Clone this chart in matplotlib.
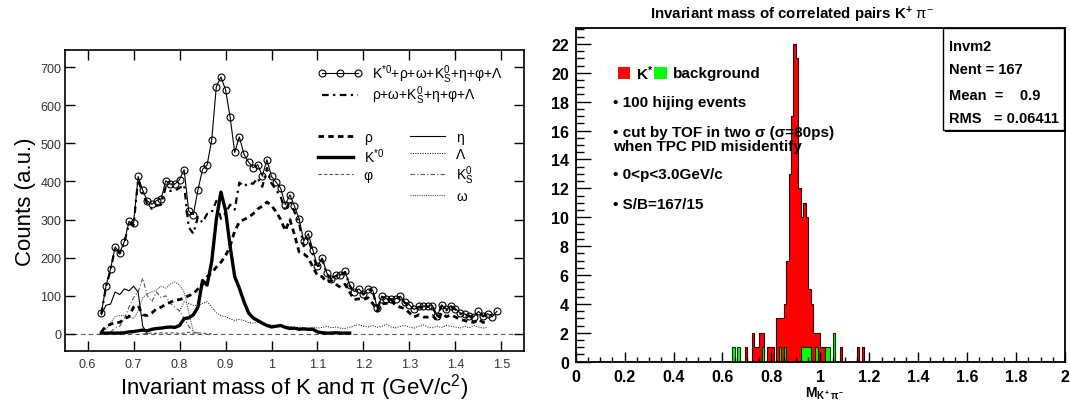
import numpy as np
import matplotlib
matplotlib.use("Agg")
import matplotlib.pyplot as plt
from matplotlib.lines import Line2D
from matplotlib.patches import Rectangle
from matplotlib.ticker import MultipleLocator, FuncFormatter

plt.rcParams['font.family'] = ['Liberation Sans', 'DejaVu Sans']
plt.rcParams['mathtext.fontset'] = 'custom'
plt.rcParams['mathtext.rm'] = 'Liberation Sans'
plt.rcParams['mathtext.it'] = 'Liberation Sans:italic'
plt.rcParams['mathtext.bf'] = 'Liberation Sans:bold'

# ---------------- left panel data ----------------
x_total = [round(0.63 + 0.01 * i, 2) for i in range(87)]
total = [54, 125, 170, 228, 213, 242, 295, 290, 413, 377, 349, 340, 350, 354, 402, 393, 393, 405, 431, 322,
         313, 377, 432, 443, 509, 649, 674, 641, 569, 476, 517, 472, 451, 436, 444, 414, 457, 413, 398, 382,
         339, 365, 335, 302, 243, 263, 220, 177, 199, 160, 145, 154, 155, 164, 128, 111, 118, 105, 118, 115,
         67, 99, 92, 92, 92, 99, 83, 76, 64, 72, 73, 73, 74, 46, 76, 64, 74, 66, 55, 52,
         48, 45, 59, 48, 53, 45, 59]

x_bkg = [round(0.63 + 0.01 * i, 2) for i in range(85)]
bkg = [52, 123, 168, 226, 211, 239, 290, 284, 405, 367, 341, 328, 336, 339, 385, 375, 376, 383, 391, 280,
       263, 307, 292, 315, 319, 349, 302, 317, 339, 326, 397, 387, 396, 394, 409, 386, 435, 395, 378, 360,
       322, 351, 320, 290, 230, 251, 208, 172, 196, 158, 143, 151, 153, 162, 126, 109, 116, 103, 116, 113,
       65, 97, 90, 90, 90, 97, 81, 74, 62, 70, 71, 71, 72, 44, 74, 62, 72, 64, 53, 50,
       46, 43, 57, 46, 51]

x_rho = x_bkg
rho = [5, 20, 25, 30, 30, 40, 45, 70, 74, 50, 48, 55, 66, 70, 78, 83, 88, 90, 94, 100,
       105, 118, 130, 150, 160, 175, 188, 205, 230, 270, 293, 300, 306, 315, 328, 335, 346, 337, 320, 300,
       271, 300, 260, 215, 210, 200, 175, 153, 150, 136, 140, 130, 122, 130, 109, 90, 92, 90, 95, 80,
       60, 79, 80, 87, 75, 70, 66, 55, 44, 50, 44, 44, 48, 35, 55, 45, 50, 44, 38, 35,
       31, 30, 38, 30, 31]

x_kstar = [round(0.63 + 0.01 * i, 2) for i in range(55)]
kstar = [2, 2, 2, 2, 2, 3, 5, 6, 8, 10, 8, 12, 14, 15, 17, 18, 17, 22, 40, 42,
         50, 70, 140, 128, 190, 300, 372, 324, 230, 150, 120, 85, 55, 42, 35, 28, 22, 18, 20, 22,
         17, 14, 15, 12, 13, 12, 12, 5, 3, 2, 2, 3, 2, 2, 2]

x_eta = [0.63, 0.64, 0.65, 0.66, 0.67, 0.68, 0.69, 0.70, 0.71, 0.72, 0.73]
eta = [50, 75, 78, 110, 103, 118, 113, 125, 110, 20, 0]

x_omega = [round(0.64 + 0.01 * i, 2) for i in range(21)]
omega = [10, 30, 45, 48, 48, 45, 40, 60, 95, 105, 110, 115, 125, 120, 130, 136, 128, 110, 57, 5, 2]

x_ks = [round(0.65 + 0.01 * i, 2) for i in range(20)]
ks = [5, 15, 20, 40, 70, 95, 110, 146, 100, 85, 110, 95, 100, 80, 70, 60, 40, 20, 5, 2]

x_phi = [round(0.72 + 0.01 * i, 2) for i in range(16)]
phi = [0, 1, 2, 1, 3, 2, 2, 3, 1, 2, 4, 2, 3, 2, 1, 0]

x_lambda = [round(0.80 + 0.01 * i, 2) for i in range(68)]
lam = [60, 84, 80, 75, 74, 80, 84, 70, 55, 48, 45, 40, 35, 38, 35, 30, 28, 30, 28, 25,
       24, 20, 22, 18, 20, 15, 18, 16, 14, 18, 15, 17, 20, 16, 18, 15, 14, 17, 22, 24,
       20, 18, 22, 17, 20, 25, 18, 16, 20, 22, 18, 15, 20, 24, 18, 16, 20, 17, 22, 20,
       18, 15, 20, 16, 22, 18, 15, 17]

left_xticks = [0.6, 0.7, 0.8, 0.9, 1.0, 1.1, 1.2, 1.3, 1.4, 1.5]
left_xticklabels = ['0.6', '0.7', '0.8', '0.9', '1', '1.1', '1.2', '1.3', '1.4', '1.5']
left_yticks = [0, 100, 200, 300, 400, 500, 600, 700]

# ---------------- right panel data ----------------
red_bins = [0.69, 0.72, 0.73, 0.74, 0.75, 0.76, 0.78, 0.79, 0.80, 0.82, 0.83, 0.84, 0.85, 0.86, 0.87,
            0.88, 0.89, 0.90, 0.91, 0.92, 0.93, 0.94, 0.95, 0.96, 0.97, 0.98, 0.99, 1.00, 1.01,
            1.08, 1.15, 1.17]
red_counts = [1, 2, 1, 1, 2, 2, 1, 1, 1, 3, 3, 3, 4, 7, 13,
              17, 22, 21, 12, 10, 11, 10, 5, 4, 2, 2, 2, 1, 1,
              1, 1, 1]
green_bins = [0.64, 0.66, 0.76, 0.83, 0.85, 0.92, 0.93, 0.94, 0.95, 0.98, 1.02, 1.03, 1.05]
green_counts = [1, 1, 1, 1, 1, 1, 1, 1, 1, 1, 1, 1, 2]

# ---------------- figure ----------------
fig = plt.figure(figsize=(10.70, 4.02), dpi=100)
W, H = 1070, 402


def px_axes(l, t, r, b):
    return [l / W, 1 - b / H, (r - l) / W, (b - t) / H]


# ===== left =====
ax = fig.add_axes(px_axes(65, 51, 524, 352))
ax.set_xlim(0.551, 1.549)
ax.set_ylim(-45, 745)
ax.axhline(0, color='#555555', lw=0.8, ls=(0, (4, 3)), zorder=1)

ax.plot(x_lambda, lam, color='black', lw=0.7, ls=(0, (1, 1.5)))
ax.plot(x_omega, omega, color='#555555', lw=0.8, ls=(0, (1, 1)))
ax.plot(x_ks, ks, color='#555555', lw=0.8, ls=(0, (4, 2, 1, 2)))
ax.plot(x_phi, phi, color='#555555', lw=0.8, ls=(0, (3, 2)))
ax.plot(x_eta, eta, color='black', lw=0.8, ls='-')
ax.plot(x_rho, rho, color='black', lw=2.0, ls=(0, (2, 1.5)))
ax.plot(x_kstar, kstar, color='black', lw=2.4, ls='-')
ax.plot(x_bkg, bkg, color='black', lw=1.6, ls=(0, (3, 2, 1, 2)))
ax.plot(x_total, total, color='black', lw=0.8, marker='o', ms=5, mfc='none', mec='black', mew=0.8)

ax.set_xticks(left_xticks)
ax.set_xticklabels(left_xticklabels)
ax.set_yticks(left_yticks)
ax.tick_params(direction='in', length=7, width=1.0, top=True, right=True,
               labelsize=9, labelcolor='#333333')
ax.tick_params(axis='x', pad=5)
ax.tick_params(axis='y', pad=2.5)
for s in ax.spines.values():
    s.set_linewidth(1.2)
ax.set_xlabel(r'Invariant mass of K and $\mathrm{\pi}$ (GeV/c$^2$)', fontsize=16, labelpad=1)
ax.set_ylabel('Counts (a.u.)', fontsize=16, labelpad=3)

h_tot = Line2D([], [], color='black', lw=0.8, marker='o', ms=5, mfc='none', mew=0.8)
h_bkg = Line2D([], [], color='black', lw=1.6, ls=(0, (3, 2, 1, 2)))
leg1 = ax.legend([h_tot, h_bkg],
                 [r'K$^{*0}$+ρ+ω+K$^0_\mathrm{S}$+η+φ+Λ', r'ρ+ω+K$^0_\mathrm{S}$+η+φ+Λ'],
                 loc='upper left', bbox_to_anchor=(0.551, 0.958), frameon=False, fontsize=10,
                 handlelength=3.2, handletextpad=0.7, labelspacing=-0.1, borderpad=0,
                 borderaxespad=0, numpoints=3)
ax.add_artist(leg1)

hs = [Line2D([], [], color='black', lw=2.0, ls=(0, (2, 1.5))),
      Line2D([], [], color='black', lw=2.4),
      Line2D([], [], color='#555555', lw=0.8, ls=(0, (3, 2))),
      Line2D([], [], color='none'),
      Line2D([], [], color='black', lw=0.8),
      Line2D([], [], color='black', lw=0.7, ls=(0, (1, 1.5))),
      Line2D([], [], color='#555555', lw=0.8, ls=(0, (4, 2, 1, 2))),
      Line2D([], [], color='#555555', lw=0.8, ls=(0, (1, 1)))]
labs = ['ρ', r'K$^{*0}$', 'φ', '', 'η', 'Λ', r'K$^0_\mathrm{S}$', 'ω']
ax.legend(hs, labs, ncol=2, loc='upper left', bbox_to_anchor=(0.551, 0.735), frameon=False,
          fontsize=10, handlelength=2.5, handletextpad=0.8, labelspacing=0.2, columnspacing=1.9,
          borderpad=0, borderaxespad=0)

# ===== right =====
ax2 = fig.add_axes(px_axes(575.7, 29, 1065, 362.7))
edges = np.round(np.arange(0, 2.0001, 0.01), 2)
red = np.zeros(len(edges) - 1)
green = np.zeros(len(edges) - 1)
for b, c in zip(red_bins, red_counts):
    red[int(round(b * 100))] = c
for b, c in zip(green_bins, green_counts):
    green[int(round(b * 100))] = c
ax2.stairs(red, edges, fill=True, facecolor='#ff0000', edgecolor='none')
ax2.stairs(red, edges, fill=False, color='#300000', lw=0.8)
ax2.stairs(green, edges, fill=True, facecolor='#00ff00', edgecolor='none')
ax2.stairs(green, edges, fill=False, color='#003000', lw=0.8)
ax2.set_xlim(0, 2)
ax2.set_ylim(0, 23.1)
ax2.xaxis.set_major_locator(MultipleLocator(0.2))
ax2.xaxis.set_minor_locator(MultipleLocator(0.05))
ax2.yaxis.set_major_locator(MultipleLocator(2))
ax2.yaxis.set_minor_locator(MultipleLocator(0.5))
ax2.xaxis.set_major_formatter(FuncFormatter(lambda v, p: ('%g' % round(v, 2))))
ax2.tick_params(which='major', axis='x', direction='in', length=7, width=1.0)
ax2.tick_params(which='minor', axis='x', direction='in', length=3.5, width=1.0)
ax2.tick_params(which='major', axis='y', direction='in', length=10.5, width=1.0)
ax2.tick_params(which='minor', axis='y', direction='in', length=5.5, width=1.0)
ax2.tick_params(axis='both', which='major', labelsize=11.5, pad=5)
for lbl in ax2.get_xticklabels() + ax2.get_yticklabels():
    lbl.set_fontweight('bold')
for s in ax2.spines.values():
    s.set_linewidth(1.3)
ax2.set_xlabel(r'M$_{\mathbf{K^+\pi^-}}$', fontsize=10, fontweight='bold')
ax2.xaxis.set_label_coords(0.51, -0.068)

fig.text(0.74, 0.962, r'Invariant mass of correlated pairs K$^\mathbf{+}$ $\mathrm{\pi}^\mathrm{-}$',
         ha='center', va='center', fontsize=10.8, fontweight='bold')

# legend-ish text block
tx = 612.7 / W
fig.patches.append(Rectangle((618 / W, 1 - 80 / H), 12 / W, 12 / H, transform=fig.transFigure,
                             facecolor='#ff0000', edgecolor='none'))
fig.patches.append(Rectangle((654 / W, 1 - 80 / H), 13 / W, 12 / H, transform=fig.transFigure,
                             facecolor='#00ff00', edgecolor='none'))
fig.text(636.5 / W, 1 - 74 / H, r'K$^\mathbf{*}$', fontsize=11, fontweight='bold', va='center')
fig.text(673 / W, 1 - 74 / H, 'background', fontsize=11, fontweight='bold', va='center')
fig.text(tx, 1 - 103 / H, '• 100 hijing events', fontsize=11, fontweight='bold', va='center')
fig.text(tx, 1 - 133 / H, '• cut by TOF in two σ (σ=80ps)', fontsize=11, fontweight='bold', va='center')
fig.text(tx, 1 - 146.5 / H, 'when TPC PID misidentify', fontsize=11, fontweight='bold', va='center')
fig.text(tx, 1 - 175 / H, '• 0<p<3.0GeV/c', fontsize=11, fontweight='bold', va='center')
fig.text(tx, 1 - 205 / H, '• S/B=167/15', fontsize=11, fontweight='bold', va='center')

# stats box
fig.patches.append(Rectangle((944.5 / W, 1 - 133 / H), 121.5 / W, 102 / H, transform=fig.transFigure,
                             facecolor='black', edgecolor='none', zorder=5))
fig.patches.append(Rectangle((942.5 / W, 1 - 130.5 / H), 121.5 / W, 101.5 / H, transform=fig.transFigure,
                             facecolor='white', edgecolor='black', lw=1.0, zorder=6))
sx = 949 / W
for yy, t in [(46.7, 'Invm2'), (70, 'Nent = 167'), (96.5, 'Mean  =    0.9'), (119.3, 'RMS   = 0.06411')]:
    fig.text(sx, 1 - yy / H, t, fontsize=10.5, fontweight='bold', va='center', zorder=7)

fig.savefig('out.png', dpi=100)
